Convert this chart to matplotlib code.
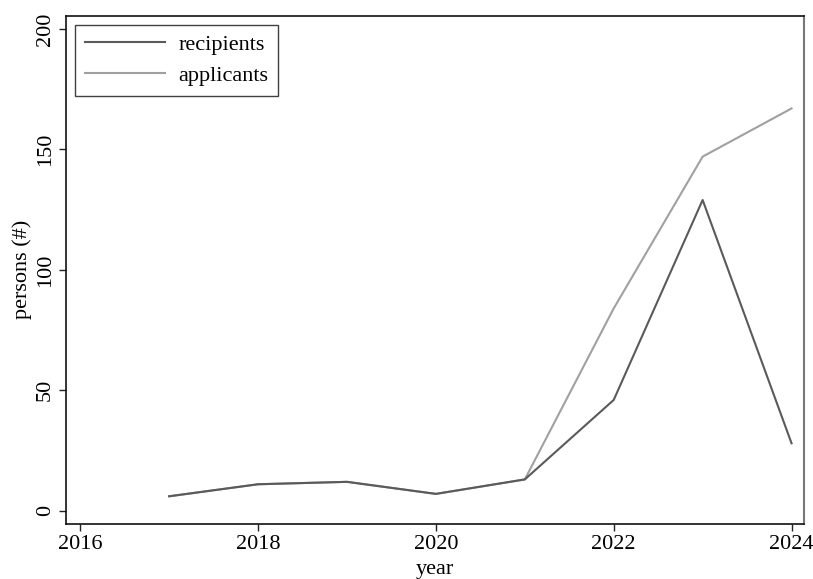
import matplotlib
matplotlib.use("Agg")
import matplotlib.pyplot as plt

years_rec = [2017, 2018, 2019, 2020, 2021, 2022, 2023, 2024]
recipients = [6, 11, 12, 7, 13, 46, 129, 28]
years_app = [2017, 2018, 2019, 2020, 2021, 2022, 2023, 2024]
applicants = [6, 11, 12, 7, 13, 84, 147, 167]
xticks = [2016, 2018, 2020, 2022, 2024]
yticks = [0, 50, 100, 150, 200]

plt.rcParams['font.family'] = ['Liberation Serif', 'DejaVu Serif']
FS = 16

fig = plt.figure(figsize=(8.13, 5.79), dpi=100)
ax = fig.add_axes([66/813, 1 - 524/579, (804-66)/813, (524-15.7)/579])

ax.plot(years_app, applicants, color='#a0a0a0', lw=1.5, label='applicants')
ax.plot(years_rec, recipients, color='#5a5a5a', lw=1.5, label='recipients')

ax.set_xlim(2015.84, 2024.14)
ax.set_ylim(-5.5, 205.5)
ax.set_xticks(xticks)
ax.set_yticks(yticks)
ax.tick_params(axis='both', labelsize=FS, length=5, width=1, color='#222222', pad=3)
for lbl in ax.get_yticklabels():
    lbl.set_rotation(90)
    lbl.set_va('center')
ax.set_xlabel('year', fontsize=FS, labelpad=4)
ax.set_ylabel('persons (#)', fontsize=FS, labelpad=3)

for s in ['left', 'bottom', 'top']:
    ax.spines[s].set_color('#111111')
    ax.spines[s].set_linewidth(1.2)
ax.spines['right'].set_color('#777777')
ax.spines['right'].set_linewidth(1.5)

h, l = ax.get_legend_handles_labels()
leg = ax.legend([h[1], h[0]], [l[1], l[0]], loc='upper left', fontsize=FS,
                frameon=True, fancybox=False, edgecolor='#111111',
                handlelength=3.6, borderaxespad=0.4, borderpad=0.45,
                labelspacing=0.45, handletextpad=0.6)
leg.get_frame().set_linewidth(1.0)

fig.savefig('out.png', dpi=100)
